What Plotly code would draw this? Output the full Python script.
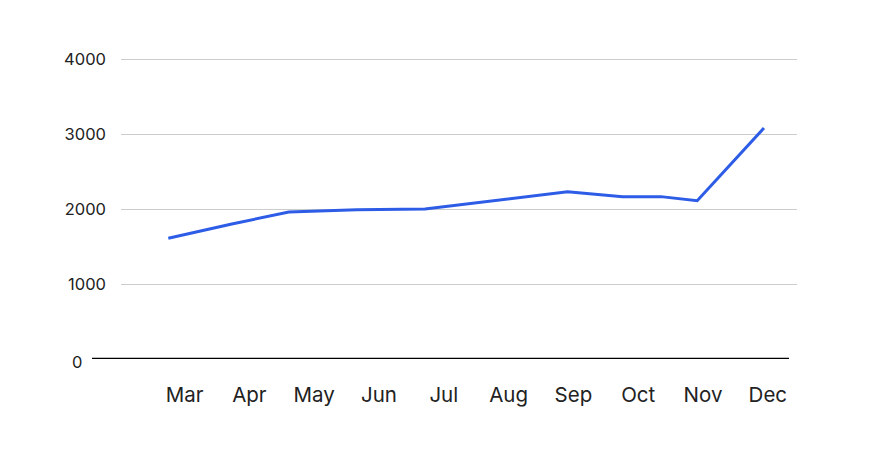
import plotly.graph_objects as go

# Month tick positions (month index, Mar = 0)
month_labels = ["Mar", "Apr", "May", "Jun", "Jul", "Aug", "Sep", "Oct", "Nov", "Dec"]
month_pos = list(range(len(month_labels)))

# Series (x in month-index units)
x_vals = [-0.25, 0.73, 1.61, 2.66, 3.71, 4.79, 5.91, 6.76, 7.35, 7.91, 8.94]
y_vals = [1610, 1800, 1960, 1990, 2000, 2110, 2230, 2165, 2165, 2110, 3080]

y_ticks = [1000, 2000, 3000, 4000]
y_max = 4040

W, H = 876, 463
OFF = 8  # page body margin
pw = 676
ph = 0.0752 * y_max          # ~75 px per 1000
L = 121 - OFF
bottom_px = 359.5 - OFF
T = bottom_px - ph
R = W - L - pw
B = H - bottom_px

fig = go.Figure()
fig.add_trace(go.Scatter(
    x=x_vals, y=y_vals, mode="lines",
    line=dict(color="#2d5ce6", width=3),
    cliponaxis=False, hoverinfo="skip",
))

fig.update_layout(
    width=W, height=H,
    margin=dict(l=L, r=R, t=T, b=B),
    paper_bgcolor="white", plot_bgcolor="white",
    showlegend=False,
    font=dict(family="Inter, Roboto, sans-serif", color="#222222"),
    xaxis=dict(
        range=[-0.98, 9.45],
        tickmode="array", tickvals=month_pos, ticktext=month_labels,
        showgrid=False, zeroline=False, showline=False, ticks="",
        tickfont=dict(size=20.5, color="#222222"),
        ticklabelstandoff=21,
    ),
    yaxis=dict(
        range=[0, y_max],
        tickmode="array", tickvals=y_ticks,
        showgrid=True, gridcolor="#cccccc", gridwidth=1,
        zeroline=False, showline=False, ticks="",
        tickfont=dict(size=16.5, color="#222222"),
        ticklabelstandoff=14,
    ),
)

# Baseline at zero
fig.add_shape(type="line", xref="paper", yref="y",
              x0=(92 - 121) / pw, x1=(789 - 121) / pw, y0=0, y1=0,
              line=dict(color="black", width=2.5), layer="above")

# "0" label
fig.add_annotation(xref="paper", yref="y", x=(76.5 - 121) / pw, y=0, yshift=-3,
                   text="0", showarrow=False, xanchor="center", yanchor="middle",
                   font=dict(size=16.5, color="#222222"))

fig.write_html("out.html")
